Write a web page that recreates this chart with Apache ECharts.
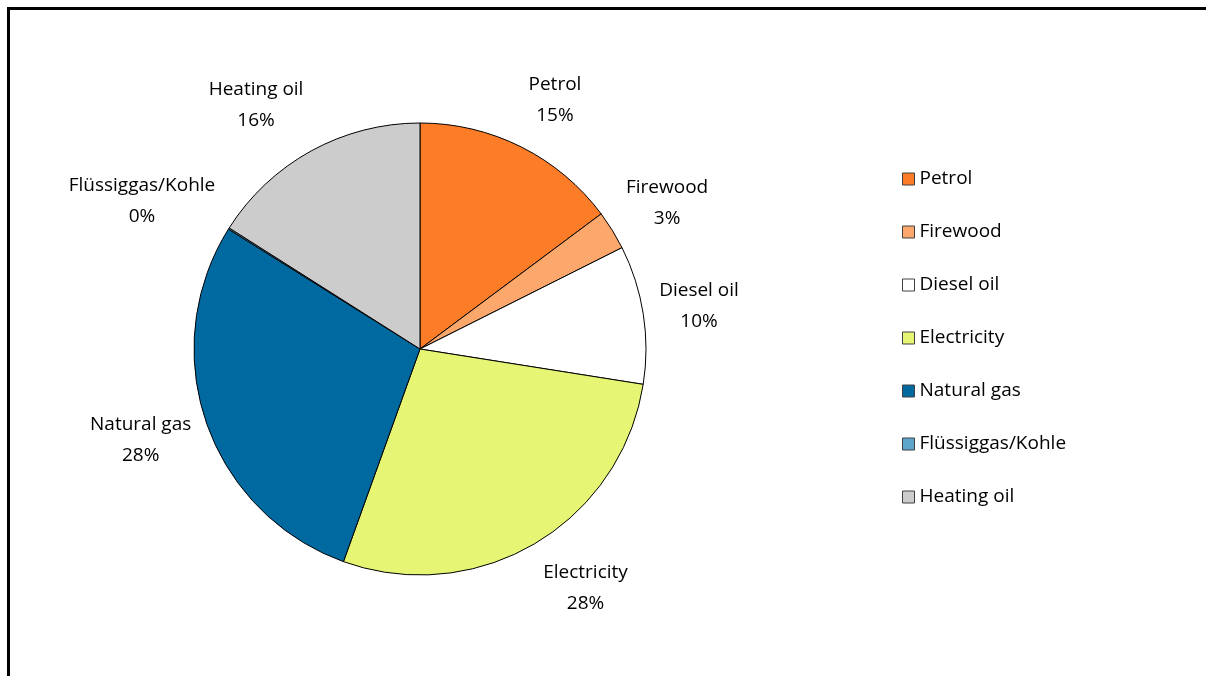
<!DOCTYPE html>
<html>
<head>
<meta charset="utf-8">
<script src="https://cdn.jsdelivr.net/npm/echarts@6/dist/echarts.min.js"></script>
<style>
  html, body { margin: 0; padding: 0; background: #fff; }
  #frame { position: absolute; left: 7px; top: 7px; right: 0; bottom: 0;
           border-left: 3px solid #000; border-top: 3px solid #000; }
  #chart { position: absolute; left: 0; top: 0; width: 1206px; height: 676px; }
</style>
</head>
<body>
<div id="frame"></div>
<div id="chart"></div>
<script>
// energy sources, clockwise from 12 o'clock
var categories = ["Petrol", "Firewood", "Diesel oil", "Electricity", "Natural gas", "Flüssiggas/Kohle", "Heating oil"];
var shares = [14.8, 2.8, 9.9, 28.0, 28.4, 0.1, 16.0];
var colors = ["#fd7c28", "#fca86c", "#ffffff", "#e6f573", "#006aa0", "#5ca6cc", "#cccccc"];

var cx = 420, cy = 349, radius = 226;
var anchorRadius = radius + 16;   // labels sit just off the rim, corner touching
var labelLH = 31;
var total = shares.reduce(function (a, b) { return a + b; }, 0);
var before = [];
shares.reduce(function (acc, v, i) { before[i] = acc; return acc + v; }, 0);

var chart = echarts.init(document.getElementById('chart'));
chart.setOption({
	animation: false,
	color: colors,
	textStyle: { fontFamily: 'Open Sans', color: '#000' },
	legend: {
		orient: 'vertical',
		left: 902,
		top: 168,
		padding: 0,
		itemWidth: 12,
		itemHeight: 12,
		itemGap: 31,
		itemTextGap: 13,
		icon: 'rect',
		itemStyle: { borderColor: '#404040', borderWidth: 1 },
		textStyle: { fontSize: 19, lineHeight: 22, color: '#000', fontFamily: 'Open Sans' },
		data: categories
	},
	series: [{
		type: 'pie',
		center: [cx, cy],
		radius: radius,
		startAngle: 90,
		clockwise: true,
		percentPrecision: 0,
		avoidLabelOverlap: false,
		itemStyle: { borderColor: '#000', borderWidth: 1 },
		emphasis: { disabled: true },
		labelLine: { show: false },
		label: {
			show: true,
			position: 'outside',
			formatter: '{t|{b}}\n{t|{d}%}',
			rich: {
				t: { fontSize: 19, lineHeight: labelLH, align: 'center', color: '#000', fontFamily: 'Open Sans' }
			}
		},
		labelLayout: function (p) {
			var i = p.dataIndex;
			var mid = (before[i] + shares[i] / 2) / total * 2 * Math.PI;
			var s = Math.sin(mid), c = Math.cos(mid);
			var w = p.labelRect.width, h = 2 * labelLH;
			return {
				x: cx + anchorRadius * s + (s >= 0 ? 1 : -1) * w / 2,
				y: cy - anchorRadius * c - c * (h / 2 + 5),
				align: 'center',
				verticalAlign: 'middle'
			};
		},
		data: categories.map(function (c, i) { return { name: c, value: shares[i] }; })
	}]
});
</script>
</body>
</html>
